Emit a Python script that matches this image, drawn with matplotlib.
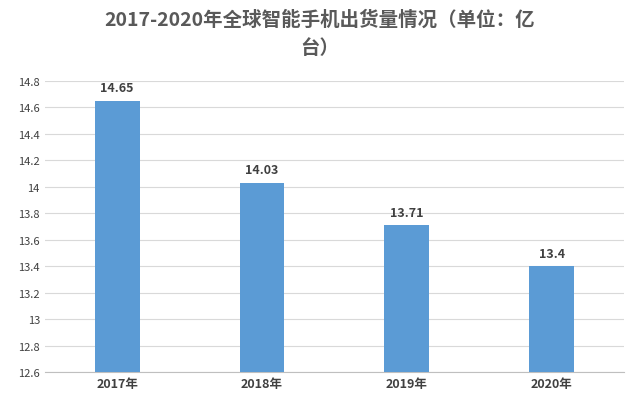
import matplotlib
matplotlib.use("Agg")
import matplotlib.pyplot as plt
import numpy as np

plt.rcParams["font.family"] = ["Noto Sans CJK SC", "DejaVu Sans"]

years = ["2017年", "2018年", "2019年", "2020年"]
shipments = [14.65, 14.03, 13.71, 13.4]
yticks = [12.6, 12.8, 13, 13.2, 13.4, 13.6, 13.8, 14, 14.2, 14.4, 14.6, 14.8]

fig = plt.figure(figsize=(6.4, 4.1), dpi=100)
ax = fig.add_axes([0.07, 0.09, 0.905, 0.71])

x = np.arange(len(years))
ax.bar(x, shipments, width=0.31, color="#5B9BD5", zorder=3)
for xi, v in zip(x, shipments):
    ax.text(xi, v + 0.05, f"{v:g}", ha="center", va="bottom",
            fontsize=9, fontweight="bold", color="#404040")

ax.set_ylim(12.6, 14.8)
ax.set_xlim(-0.5, 3.5)
ax.set_yticks(yticks)
ax.set_yticklabels([f"{t:g}" for t in yticks], fontsize=8, color="#404040")
ax.set_xticks(x)
ax.set_xticklabels(years, fontsize=9, fontweight="bold", color="#404040")
ax.tick_params(length=0)
ax.grid(axis="y", color="#D9D9D9", linewidth=0.8, zorder=0)
for s in ["top", "right", "left"]:
    ax.spines[s].set_visible(False)
ax.spines["bottom"].set_color("#BFBFBF")

fig.text(0.5, 0.975, "2017-2020年全球智能手机出货量情况（单位：亿\n台）",
         ha="center", va="top", fontsize=14, fontweight="bold",
         color="#595959", linespacing=1.65)

fig.savefig("out.png", dpi=100)
